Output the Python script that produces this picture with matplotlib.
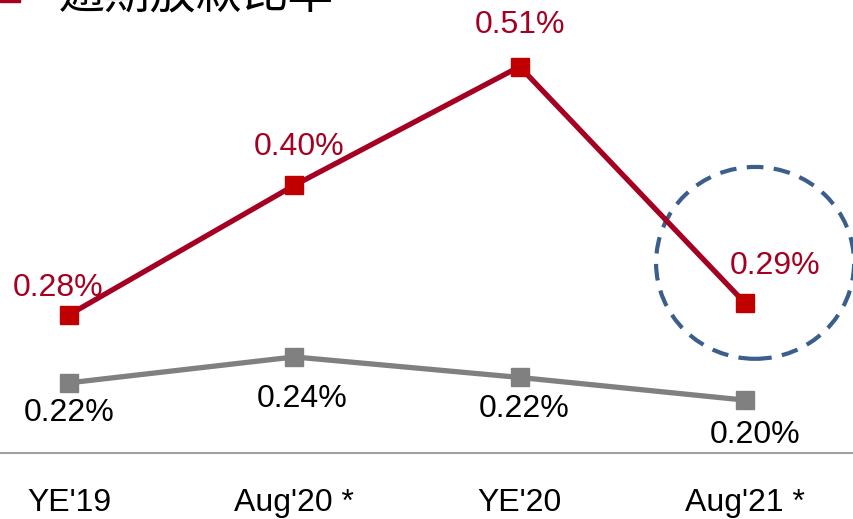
import matplotlib
matplotlib.use("Agg")
import matplotlib.pyplot as plt
from matplotlib.patches import Ellipse
from matplotlib.lines import Line2D

periods = ["YE'19", "Aug'20 *", "YE'20", "Aug'21 *"]
overdue_ratio = [0.280, 0.400, 0.510, 0.291]   # 逾期放款比率 (%)
other_ratio = [0.217, 0.241, 0.222, 0.201]      # (%)

plt.rcParams['font.family'] = ['Liberation Sans', 'Noto Sans CJK TC', 'DejaVu Sans']

fig = plt.figure(figsize=(8.54, 5.19), dpi=100)
ax = fig.add_axes([0, 66 / 519, 1, 453 / 519])

x = list(range(len(periods)))
ax.plot(x, other_ratio, color="#808080", lw=3.8, marker="s", ms=13.5, mfc="#808080", mec="#808080")
ax.plot(x, overdue_ratio, color="#A50021", lw=3.8, marker="s", ms=13.5, mfc="#C00000", mec="#C00000")

ax.set_xlim(-0.306, 3.484)
ax.set_ylim(0.152, 0.5717)

# data labels
red_off = [(-11, 27), (5, 38), (0, 42), (30, 37)]
gray_off = [(0, -30), (8, -42), (5, -32), (10, -35)]
for i in x:
    ax.annotate(f"{overdue_ratio[i]:.2f}%", (x[i], overdue_ratio[i]), xytext=red_off[i],
                textcoords="offset pixels", ha="center", va="center", fontsize=23, color="#A50021")
    ax.annotate(f"{other_ratio[i]:.2f}%", (x[i], other_ratio[i]), xytext=gray_off[i],
                textcoords="offset pixels", ha="center", va="center", fontsize=23, color="black")

# dashed highlight circle around last point
ax.add_patch(Ellipse((3.045, 0.280 + (315 - 263) / 1080), 198 / 225.3, 192 / 1080,
                     fill=False, ec="#3B5E8C", lw=3, ls=(0, (4, 2.5))))

ax.set_xticks(x)
ax.set_xticklabels(periods, fontsize=23)
ax.tick_params(axis="x", length=0, pad=25)
ax.set_yticks([])
for s in ["top", "left", "right"]:
    ax.spines[s].set_visible(False)
ax.spines["bottom"].set_color("#A0A0A0")
ax.spines["bottom"].set_linewidth(1.5)

handle = Line2D([], [], ls="none", marker="s", ms=14, mfc="#A50021", mec="#A50021")
ax.legend([handle], ["逾期放款比率"], loc="lower left", bbox_to_anchor=(0, (519 - 18) / 519),
          bbox_transform=fig.transFigure, frameon=False, fontsize=33, handlelength=0.45,
          handletextpad=0.83, borderpad=0, borderaxespad=0)

fig.savefig("out.png", dpi=100)
